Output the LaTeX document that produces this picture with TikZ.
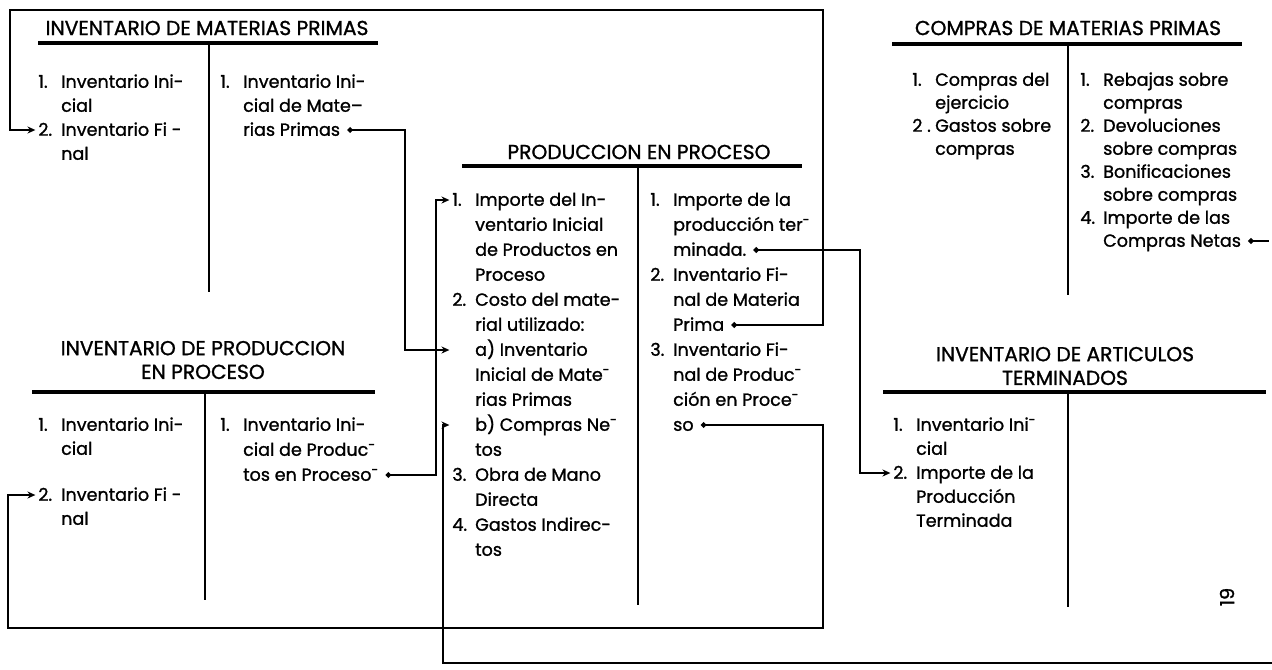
\documentclass[tikz,border=0pt]{standalone}
\usepackage{fontspec}
\setmainfont{Poppins}[FakeBold=1.2]
\usetikzlibrary{arrows.meta}

\newcommand{\nro}[1]{\makebox[1.3em][l]{#1}}
\newcommand{\sang}{\hspace*{1.3em}}
\newcommand{\guion}{\raisebox{.7ex}{\scriptsize -}}

\begin{document}
\begin{tikzpicture}[x=0.2mm,y=-0.2mm,
  titulo/.style={font=\fontsize{11.5}{13.5}\selectfont,align=center,inner sep=0pt},
  linea/.style={anchor=west,inner sep=0pt,font=\fontsize{10}{12}\selectfont,text height=1.6ex,text depth=.4ex},
  raya/.style={line width=2pt},
  eje/.style={line width=1.5pt},
  conector/.style={line width=1.1pt,{Circle[length=3pt]}-{Stealth[length=4.5pt,width=4pt]},shorten <=4pt,shorten >=1.5pt},
  flecha/.style={line width=1.1pt,-{Stealth[length=4.5pt,width=4pt]},shorten >=1.5pt}]
\useasboundingbox (0,0) rectangle (1272,669);

\node[titulo] (imp) at (207,28) {INVENTARIO DE MATERIAS PRIMAS};
\draw[raya] (38,43) -- (378,43);
\draw[eje] (209,45) -- (209,292);
\foreach \x [count=\i] in {{\nro{1.}Inventario Ini-},{\sang cial},{\nro{2.}Inventario Fi -},{\sang nal}}
  \node[linea] (imp-d-\i) at (38,{82+24*(\i-1)}) {\x};
\foreach \x [count=\i] in {{\nro{1.}Inventario Ini-},{\sang cial de Mate--},{\sang rias Primas}}
  \node[linea] (imp-h-\i) at (220,{82+24*(\i-1)}) {\x};

\node[titulo] (comp) at (1068,28) {COMPRAS DE MATERIAS PRIMAS};
\draw[raya] (892,44) -- (1242,44);
\draw[eje] (1068,46) -- (1068,295);
\foreach \x [count=\i] in {{\nro{1.}Compras del},{\sang ejercicio},{\nro{2 .}Gastos sobre},{\sang compras}}
  \node[linea] (comp-d-\i) at (912,{80+23*(\i-1)}) {\x};
\foreach \x [count=\i] in {{\nro{1.}Rebajas sobre},{\sang compras},{\nro{2.}Devoluciones},{\sang sobre compras},{\nro{3.}Bonificaciones},{\sang sobre compras},{\nro{4.}Importe de las},{\sang Compras Netas}}
  \node[linea] (comp-h-\i) at (1080,{80+23*(\i-1)}) {\x};

\node[titulo] (prod) at (639,152) {PRODUCCION EN PROCESO};
\draw[raya] (462,166) -- (802,166);
\draw[eje] (638,166) -- (638,605);
\foreach \x [count=\i] in {{\nro{1.}Importe del In-},{\sang ventario Inicial},{\sang de Productos en},{\sang Proceso},{\nro{2.}Costo del mate-},{\sang rial utilizado:},{\sang a) Inventario},{\sang Inicial de Mate\guion},{\sang rias Primas},{\sang b) Compras Ne\guion},{\sang tos},{\nro{3.}Obra de Mano},{\sang Directa},{\nro{4.}Gastos Indirec-},{\sang tos}}
  \node[linea] (prod-d-\i) at (452,{200+25*(\i-1)}) {\x};
\foreach \x [count=\i] in {{\nro{1.}Importe de la},{\sang producción ter\guion},{\sang minada.},{\nro{2.}Inventario Fi-},{\sang nal de Materia},{\sang Prima},{\nro{3.}Inventario Fi-},{\sang nal de Produc\guion},{\sang ción en Proce\guion},{\sang so}}
  \node[linea] (prod-h-\i) at (650,{200+25*(\i-1)}) {\x};

\node[titulo] (ipp) at (203,360) {INVENTARIO DE PRODUCCION\\EN PROCESO};
\draw[raya] (32,392) -- (375,392);
\draw[eje] (205,394) -- (205,600);
\foreach \y/\x [count=\i] in {425/{\nro{1.}Inventario Ini-},449/{\sang cial},495/{\nro{2.}Inventario Fi -},519/{\sang nal}}
  \node[linea] (ipp-d-\i) at (38,\y) {\x};
\foreach \x [count=\i] in {{\nro{1.}Inventario Ini-},{\sang cial de Produc\guion},{\sang tos en Proceso\guion}}
  \node[linea] (ipp-h-\i) at (220,{425+25*(\i-1)}) {\x};

\node[titulo] (iat) at (1065,366) {INVENTARIO DE ARTICULOS\\TERMINADOS};
\draw[raya] (883,392) -- (1266,392);
\draw[eje] (1068,394) -- (1068,607);
\foreach \x [count=\i] in {{\nro{1.}Inventario Ini\guion},{\sang cial},{\nro{2.}Importe de la},{\sang Producción},{\sang Terminada}}
  \node[linea] (iat-d-\i) at (893,{425+24*(\i-1)}) {\x};

\node[rotate=90,font=\fontsize{11}{11}\selectfont] (folio) at (1227,597) {19};

\coordinate (esq-a) at (823,10);
\coordinate (esq-b) at (10,10);
\coordinate (esq-c) at (405,250);
\coordinate (esq-d) at (436,300);
\coordinate (esq-e) at (823,628);
\coordinate (esq-f) at (8,628);
\coordinate (esq-g) at (860,350);
\coordinate (esq-h) at (1272,663);
\coordinate (esq-i) at (443,663);

\draw[conector] (prod-h-6.east) -| (esq-a) -- (esq-b) |- (imp-d-3.west);
\draw[conector] (imp-h-3.east) -| (esq-c) |- (prod-d-7.west);
\draw[conector] (ipp-h-3.east) -| (esq-d) |- (prod-d-1.west);
\draw[conector] (prod-h-10.east) -| (esq-e) -- (esq-f) |- (ipp-d-3.west);
\draw[conector] (prod-h-3.east) -| (esq-g) |- (iat-d-3.west);
\draw[flecha] (esq-h) -- (esq-i) |- (prod-d-10.west);
\draw[conector,{Circle[length=3pt]}-] (comp-h-8.east) -- (comp-h-8.east -| esq-h);
\end{tikzpicture}
\end{document}
